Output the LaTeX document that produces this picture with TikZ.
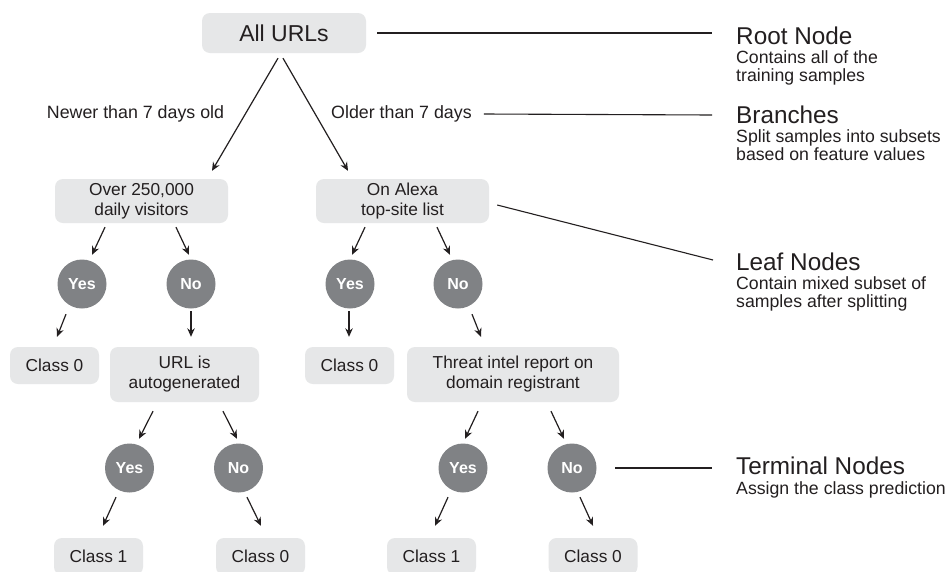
\documentclass[tikz,border=0pt]{standalone}
\usepackage{fontspec}
\setmainfont{Liberation Sans}
\usetikzlibrary{arrows.meta}
\definecolor{boxgray}{HTML}{E6E7E8}
\definecolor{circgray}{HTML}{808285}
\definecolor{ink}{HTML}{231F20}
\begin{document}
\begin{tikzpicture}[x=1pt,y=-1pt,
  box/.style={fill=boxgray, rounded corners=8pt, inner sep=0pt, align=center, text=ink, font=\fontsize{17.3}{20}\selectfont},
  smallbox/.style={box, minimum width=89pt, minimum height=37pt},
  dot/.style={circle, fill=circgray, minimum size=49pt, inner sep=0pt, text=white, font=\fontsize{16}{18}\selectfont\bfseries},
  arr/.style={draw=ink, line width=1.2pt, -{Stealth[length=8.5pt,width=7.5pt]}},
  lead/.style={draw=ink, line width=1.1pt},
  lbl/.style={text=ink, font=\fontsize{17.8}{20}\selectfont, inner sep=0pt},
  head/.style={text=ink, font=\fontsize{24.3}{28}\selectfont, inner sep=0pt, anchor=base west},
  sub/.style={text=ink, font=\fontsize{17.7}{19}\selectfont, inner sep=0pt, anchor=base west},
]
\useasboundingbox (0,0) rectangle (950,571);
\fill[white] (0,0) rectangle (950,571);

% tree nodes
\node[box, minimum width=164pt, minimum height=40pt, font=\fontsize{23}{26}\selectfont] (root) at (284,33) {All URLs};
\node[box, minimum width=173pt, minimum height=44pt] (over) at (141.5,201) {Over 250,000\\daily visitors};
\node[box, minimum width=173pt, minimum height=44pt] (alexa) at (402.5,201) {On Alexa\\top-site list};
\node[dot] (y1) at (82,284) {Yes};
\node[dot] (n1) at (191,284) {No};
\node[dot] (y2) at (350,284) {Yes};
\node[dot] (n2) at (458,284) {No};
\node[smallbox] (c0a) at (54.5,365.5) {Class 0};
\node[box, minimum width=149pt, minimum height=55pt] (url) at (184.5,374.5) {URL is\\autogenerated};
\node[smallbox] (c0b) at (349.5,365.5) {Class 0};
\node[box, minimum width=212pt, minimum height=55pt] (threat) at (513,374.5) {Threat intel report on\\domain registrant};
\node[dot] (y3) at (129.5,468) {Yes};
\node[dot] (n3) at (238.5,468) {No};
\node[dot] (y4) at (463,468) {Yes};
\node[dot] (n4) at (572,468) {No};
\node[smallbox] (c1a) at (98.5,556.5) {Class 1};
\node[smallbox] (c0c) at (260.5,556.5) {Class 0};
\node[smallbox] (c1b) at (431.5,556.5) {Class 1};
\node[smallbox] (c0d) at (593,556.5) {Class 0};

% branch labels
\node[lbl] (newer) at (135.5,114) {Newer than 7 days old};
\node[lbl, anchor=west] (older) at (331,114) {Older than 7 days};

% arrows
\draw[arr] ([shift={(-6,5)}]root.south) -- ([shift={(70.5,-8)}]over.north);
\draw[arr] ([shift={(-1,5)}]root.south) -- ([shift={(-54.5,-8)}]alexa.north);
\draw[arr] ([shift={(-36.5,4)}]over.south) -- ([shift={(10,-4.5)}]y1.north);
\draw[arr] ([shift={(34.5,4)}]over.south) -- ([shift={(-2,-4.5)}]n1.north);
\draw[arr] ([shift={(-37.5,4)}]alexa.south) -- ([shift={(2,-4.5)}]y2.north);
\draw[arr] ([shift={(34.5,4)}]alexa.south) -- ([shift={(-8,-4.5)}]n2.north);
\draw[arr] ([shift={(-16,5.5)}]y1.south) -- ([shift={(2.5,-10)}]c0a.north);
\draw[arr] ([shift={(0,2.5)}]n1.south) -- ([shift={(6.5,-10)}]url.north);
\draw[arr] ([shift={(-1,2.5)}]y2.south) -- ([shift={(-0.5,-10)}]c0b.north);
\draw[arr] ([shift={(14,5.5)}]n2.south) -- ([shift={(-32,-10)}]threat.north);
\draw[arr] ([shift={(-31.5,9)}]url.south) -- ([shift={(9.5,-4.5)}]y3.north);
\draw[arr] ([shift={(38.5,9)}]url.south) -- ([shift={(-1.5,-4.5)}]n3.north);
\draw[arr] ([shift={(-35,9)}]threat.south) -- ([shift={(2,-4.5)}]y4.north);
\draw[arr] ([shift={(38,9)}]threat.south) -- ([shift={(-8,-4.5)}]n4.north);
\draw[arr] ([shift={(-13.5,4.5)}]y3.south) -- ([shift={(4.5,-12)}]c1a.north);
\draw[arr] ([shift={(8.5,4.5)}]n3.south) -- ([shift={(0.5,-12)}]c0c.north);
\draw[arr] ([shift={(-15,4.5)}]y4.south) -- ([shift={(3.5,-12)}]c1b.north);
\draw[arr] ([shift={(8,4.5)}]n4.south) -- ([shift={(0,-12)}]c0d.north);

% annotations
\node[head] (hroot) at (736,44) {Root Node};
\node[sub] (sroot1) at (736,63) {Contains all of the};
\node[sub] (sroot2) at (736,81) {training samples};
\node[head] (hbr) at (736,123) {Branches};
\node[sub] (sbr1) at (736,142) {Split samples into subsets};
\node[sub] (sbr2) at (736,160) {based on feature values};
\node[head] (hleaf) at (736,270) {Leaf Nodes};
\node[sub] (sleaf1) at (736,289) {Contain mixed subset of};
\node[sub] (sleaf2) at (736,307) {samples after splitting};
\node[head] (hterm) at (736,474) {Terminal Nodes};
\node[sub] (sterm) at (736,494) {Assign the class prediction};

\coordinate (eroot) at (712,33);
\coordinate (ebr) at (712,115);
\coordinate (eleaf) at (713,260);
\coordinate (eterm) at (712,468);
\draw[lead] ([xshift=11pt]root.east) -- (eroot);
\draw[lead] ([xshift=12pt]older.east) -- (ebr);
\draw[lead] ([shift={(8,4)}]alexa.east) -- (eleaf);
\draw[lead] ([xshift=18.5pt]n4.east) -- (eterm);
\end{tikzpicture}
\end{document}
